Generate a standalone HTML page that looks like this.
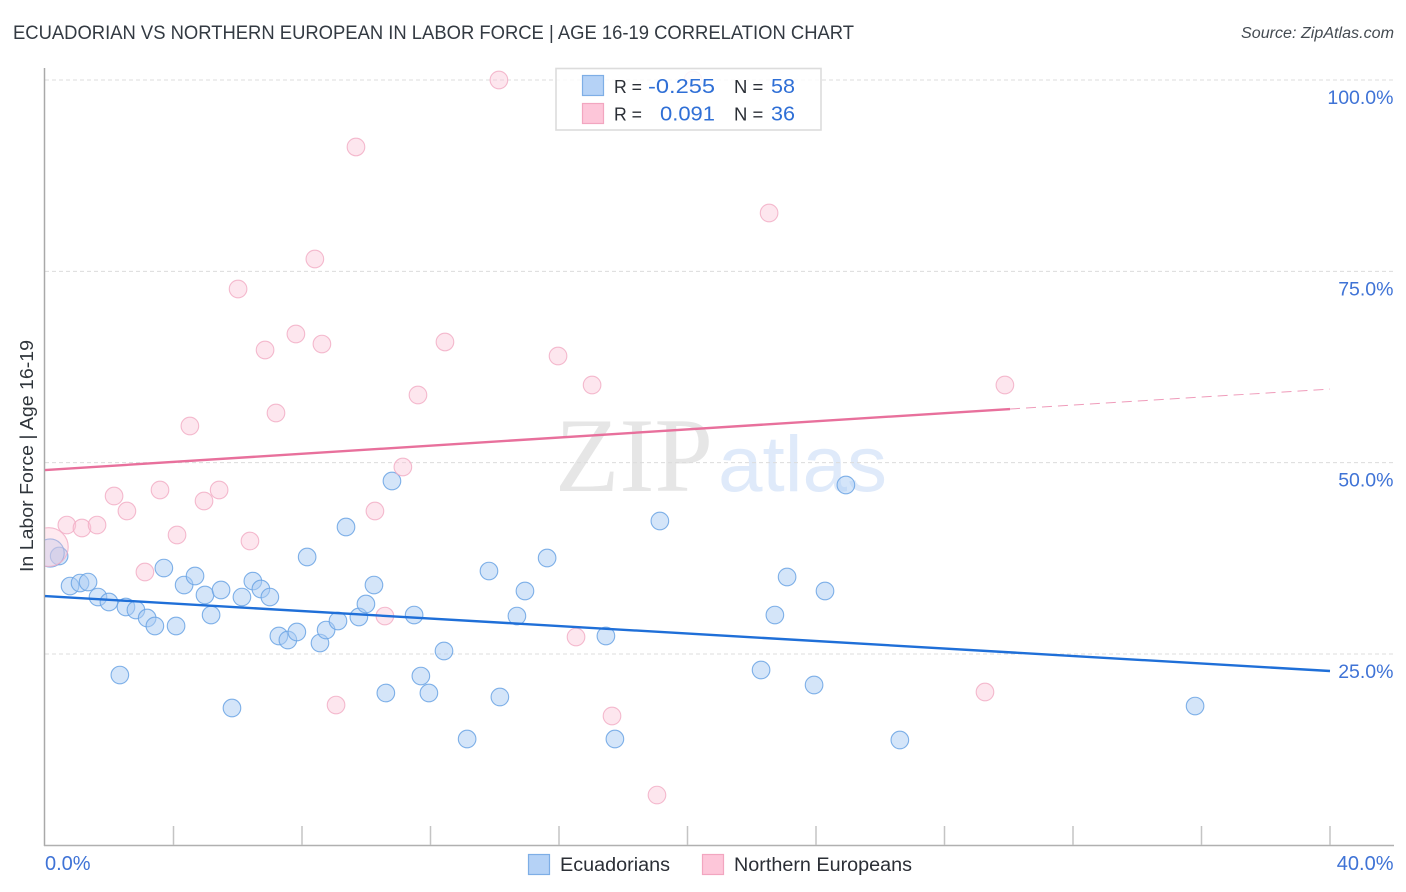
<!DOCTYPE html>
<html lang="en">
<head>
<meta charset="utf-8">
<title>Ecuadorian vs Northern European in Labor Force | Age 16-19 Correlation Chart</title>
<style>
  html, body { margin: 0; padding: 0; background: #fff; }
  body { width: 1406px; height: 892px; overflow: hidden; }
  svg { display: block; }
  text { font-family: "Liberation Sans", sans-serif; }
</style>
</head>
<body>
<svg id="chart" width="1406" height="892" viewBox="0 0 1406 892" xmlns="http://www.w3.org/2000/svg">
  <defs>
    <clipPath id="plot-clip"><rect x="45" y="40" width="1350" height="805"></rect></clipPath>
  </defs>
  <rect width="1406" height="892" fill="#ffffff"></rect>

  <text x="13" y="39" font-size="19" fill="#333a42" textLength="841" lengthAdjust="spacingAndGlyphs">ECUADORIAN VS NORTHERN EUROPEAN IN LABOR FORCE | AGE 16-19 CORRELATION CHART</text>
  <text x="1394" y="38" font-size="15.5" font-style="italic" fill="#444b52" text-anchor="end" textLength="153" lengthAdjust="spacingAndGlyphs">Source: ZipAtlas.com</text>

  <g>
    <text x="555" y="491" font-size="106" fill="#e6e6e6" textLength="158" lengthAdjust="spacingAndGlyphs" style="font-family:'Liberation Serif',serif">ZIP</text>
    <text x="718" y="491" font-size="79" fill="#dfeafa" textLength="169" lengthAdjust="spacingAndGlyphs">atlas</text>
  </g>

  <g id="grid"></g>
  <g id="axes"></g>
  <g id="points-blue" clip-path="url(#plot-clip)"></g>
  <g id="points-pink" clip-path="url(#plot-clip)"></g>
  <g id="trends"></g>
  <g id="labels"></g>

  <text transform="translate(33,456) rotate(-90)" font-size="18.5" fill="#2f353b" text-anchor="middle" textLength="232" lengthAdjust="spacingAndGlyphs">In Labor Force | Age 16-19</text>

  <g>
    <rect x="556" y="68.5" width="265" height="61.5" fill="#ffffff" fill-opacity="0.86" stroke="#dcdcdc" stroke-width="1.6"></rect>
    <rect x="582.5" y="75.5" width="21" height="20" fill="#b5d2f6" stroke="#7eaee6" stroke-width="1.2"></rect>
    <rect x="582.5" y="103.5" width="21" height="20" fill="#fdc6d9" stroke="#f2a6c0" stroke-width="1.2"></rect>
    <text x="614" y="93" font-size="18.5" fill="#2b2f36" textLength="28" lengthAdjust="spacingAndGlyphs">R =</text>
    <text x="715" y="93" font-size="20.5" fill="#2f6fd6" text-anchor="end" textLength="67" lengthAdjust="spacingAndGlyphs">-0.255</text>
    <text x="734" y="93" font-size="18.5" fill="#2b2f36">N =</text>
    <text x="771" y="93" font-size="20.5" fill="#2f6fd6" textLength="24" lengthAdjust="spacingAndGlyphs">58</text>
    <text x="614" y="120.5" font-size="18.5" fill="#2b2f36" textLength="28" lengthAdjust="spacingAndGlyphs">R =</text>
    <text x="715" y="120.5" font-size="20.5" fill="#2f6fd6" text-anchor="end" textLength="55" lengthAdjust="spacingAndGlyphs">0.091</text>
    <text x="734" y="120.5" font-size="18.5" fill="#2b2f36">N =</text>
    <text x="771" y="120.5" font-size="20.5" fill="#2f6fd6" textLength="24" lengthAdjust="spacingAndGlyphs">36</text>
  </g>

  <g>
    <g>
      <rect x="528.5" y="854.5" width="21" height="20" fill="#b5d2f6" stroke="#7eaee6" stroke-width="1.2"></rect>
      <text x="560" y="871" font-size="19" fill="#2b2f36" textLength="110" lengthAdjust="spacingAndGlyphs">Ecuadorians</text>
    </g>
    <g>
      <rect x="702.5" y="854.5" width="21" height="20" fill="#fdc6d9" stroke="#f2a6c0" stroke-width="1.2"></rect>
      <text x="734" y="871" font-size="19" fill="#2b2f36" textLength="178" lengthAdjust="spacingAndGlyphs">Northern Europeans</text>
    </g>
  </g>
</svg>

<script>
var xTickValues = [0, 4, 8, 12, 16, 20, 24, 28, 32, 36, 40];
var yGridValues = [100, 75, 50, 25];
var yTickLabels = ["100.0%", "75.0%", "50.0%", "25.0%"];
var xEndLabels = ["0.0%", "40.0%"];

var ecuadorianX = [0.44,0.78,1.09,1.34,1.65,1.99,2.52,2.83,3.18,3.42,4.08,2.33,3.70,4.33,4.67,4.98,5.17,5.48,5.82,6.13,6.47,6.72,7.00,7.28,7.56,7.84,8.16,8.56,8.75,9.12,9.37,9.77,9.99,10.24,10.61,10.80,11.49,11.70,11.95,12.42,13.14,13.82,14.16,14.69,14.94,15.63,17.46,17.74,19.14,22.29,22.72,23.10,23.94,24.28,24.93,26.61,35.80,0.16];
var ecuadorianY = [37.80,33.88,34.27,34.40,32.44,31.79,31.14,30.75,29.70,28.66,28.66,22.25,36.23,34.01,35.19,32.71,30.09,33.36,17.94,32.44,34.53,33.49,32.44,27.35,26.83,27.87,37.67,26.43,28.13,29.31,41.59,29.83,31.53,34.01,19.90,47.60,30.09,22.12,19.90,25.39,13.89,35.84,19.38,29.96,33.23,37.54,27.35,13.89,42.38,22.91,30.09,35.06,20.95,33.23,47.08,13.76,18.20,38.19];
var ecuadorianSize = [1,1,1,1,1,1,1,1,1,1,1,1,1,1,1,1,1,1,1,1,1,1,1,1,1,1,1,1,1,1,1,1,1,1,1,1,1,1,1,1,1,1,1,1,1,1,1,1,1,1,1,1,1,1,1,1,1,1.6];

var northernX = [14.13,9.68,22.54,8.40,6.01,7.81,6.85,8.62,12.45,15.97,17.03,29.88,11.61,7.19,4.51,11.14,2.15,3.58,5.42,4.95,2.55,10.27,0.68,1.15,1.62,4.11,6.38,3.11,10.58,16.53,29.26,9.06,17.65,19.05,0.12,20.17];
var northernY = [100,91.25,82.62,76.61,72.69,66.81,64.72,65.50,65.77,63.94,60.15,60.15,58.84,56.49,54.79,49.43,45.64,46.43,46.43,44.99,43.68,43.68,41.85,41.46,41.85,40.55,39.76,35.71,29.96,27.22,20.03,18.33,16.90,6.57,38.98,100];
var northernSize = [1,1,1,1,1,1,1,1,1,1,1,1,1,1,1,1,1,1,1,1,1,1,1,1,1,1,1,1,1,1,1,1,1,1,2.2,1];

var ecuadorianTrendX = [0, 40];
var ecuadorianTrendY = [32.57, 22.78];
var northernTrendSolidX = [0, 30.04];
var northernTrendSolidY = [49.04, 57.01];
var northernTrendDashX = [30.04, 40];
var northernTrendDashY = [57.01, 59.62];

var NS = "http://www.w3.org/2000/svg";
function xScale(v) { return 45 + v * (1330 - 45) / 40; }
function yScale(v) { return 80 + (100 - v) * (654 - 80) / 75; }
function make(tag, attrs, parent) {
  var el = document.createElementNS(NS, tag);
  for (var k in attrs) { el.setAttribute(k, attrs[k]); }
  parent.appendChild(el);
  return el;
}

var grid = document.getElementById("grid");
yGridValues.forEach(function (v) {
  var line = make("line", { x1: 45, x2: 1394, y1: yScale(v), y2: yScale(v), stroke: "#dcdcdc", "stroke-width": 1, "stroke-dasharray": "4 3" }, grid);
  
  
});

var axes = document.getElementById("axes");
var yAxis = make("line", { x1: 44.5, x2: 44.5, y1: 68, y2: 846, stroke: "#a9a9a9", "stroke-width": 1.5 }, axes);


var xAxis = make("line", { x1: 44, x2: 1394, y1: 845.5, y2: 845.5, stroke: "#b0b0b0", "stroke-width": 1.5 }, axes);


xTickValues.slice(1).forEach(function (v) {
  var tick = make("line", { x1: xScale(v), x2: xScale(v), y1: 826, y2: 845, stroke: "#c4c4c4", "stroke-width": 1.5 }, axes);
  
  
});

function drawPoints(groupId, xs, ys, sizes, fill, stroke, fillOpacity, name) {
  var group = document.getElementById(groupId);
  
  
  xs.forEach(function (x, i) {
    var big = sizes[i] > 1;
    var c = make("circle", {
      cx: xScale(x), cy: yScale(ys[i]), r: 8.8 * sizes[i],
      fill: fill, "fill-opacity": big ? fillOpacity * 0.85 : fillOpacity, stroke: stroke, "stroke-width": 1.1, "stroke-opacity": 0.85
    }, group);
    
    
  });
}
drawPoints("points-blue", ecuadorianX, ecuadorianY, ecuadorianSize, "#a9cbf3", "#6aa3e4", 0.5, "ecuadorians");
drawPoints("points-pink", northernX, northernY, northernSize, "#fbc3d6", "#f2aec6", 0.42, "northern-europeans");

var trends = document.getElementById("trends");
var blueTrend = make("line", { x1: xScale(ecuadorianTrendX[0]), x2: xScale(ecuadorianTrendX[1]), y1: yScale(ecuadorianTrendY[0]), y2: yScale(ecuadorianTrendY[1]), stroke: "#1f6fd8", "stroke-width": 2.4 }, trends);


var pinkTrend = make("line", { x1: xScale(northernTrendSolidX[0]), x2: xScale(northernTrendSolidX[1]), y1: yScale(northernTrendSolidY[0]), y2: yScale(northernTrendSolidY[1]), stroke: "#e8709c", "stroke-width": 2.4 }, trends);


var pinkDash = make("line", { x1: xScale(northernTrendDashX[0]), x2: xScale(northernTrendDashX[1]), y1: yScale(northernTrendDashY[0]), y2: yScale(northernTrendDashY[1]), stroke: "#e8709c", "stroke-width": 1, "stroke-dasharray": "10 6", "stroke-opacity": 0.7 }, trends);



var labels = document.getElementById("labels");
yGridValues.forEach(function (v, i) {
  var t = make("text", { x: 1393.5, y: yScale(v) + 24, "font-size": 19.5, fill: "#3f73d6", "text-anchor": "end" }, labels);
  t.textContent = yTickLabels[i];
  
  
});
var xStart = make("text", { x: 45, y: 870, "font-size": 20, fill: "#3f73d6" }, labels);
xStart.textContent = xEndLabels[0];


var xEnd = make("text", { x: 1393.5, y: 870, "font-size": 20, fill: "#3f73d6", "text-anchor": "end" }, labels);
xEnd.textContent = xEndLabels[1];


</script>
</body>
</html>
